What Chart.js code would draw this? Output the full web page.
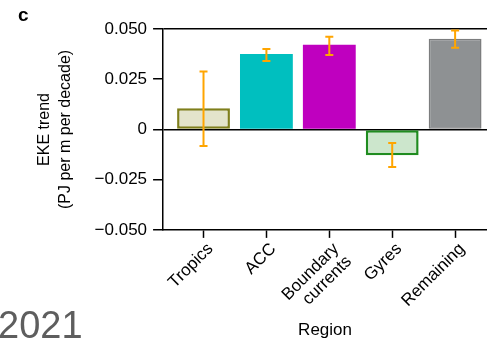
<!DOCTYPE html>
<html>
<head>
<meta charset="utf-8">
<script src="https://cdn.jsdelivr.net/npm/chart.js@4"></script>
<style>
    html, body { margin: 0; padding: 0; background: #fff; overflow: hidden; }
    #wrap { position: relative; width: 487px; height: 339px; }
    .overlay { position: absolute; font-family: 'Liberation Sans', Arial, sans-serif; line-height: 1; white-space: nowrap; }
    #panel { left: 18px; top: 5px; font-size: 19px; font-weight: bold; color: #000; }
    #year { left: -2px; top: 306px; font-size: 38px; color: #5e5e5e; }
</style>
</head>
<body>
<div id="wrap">
    <canvas id="chartEKE"></canvas>
    <div id="panel" class="overlay">c</div>
    <div id="year" class="overlay">2021</div>
</div>
<script>
// Data
const regions = ['Tropics', 'ACC', ['Boundary', 'currents'], 'Gyres', 'Remaining'];
const ekeTrend = [0.0105, 0.0376, 0.0422, -0.0129, 0.0452];
const errLow = [-0.0082, 0.0341, 0.0370, -0.0187, 0.0407];
const errHigh = [0.0288, 0.0400, 0.0462, -0.0067, 0.0492];
const yTicks = [-0.05, -0.025, 0, 0.025, 0.05];

// Warna per region
const fillColors = ['#e3e4cb', '#00bfbf', '#bf00bf', '#cce6cc', '#8e9193'];
const borderColors = ['#7f7f1c', '#00bfbf', '#bf00bf', '#1f8c1f', '#7c7d7e'];
const borderWidths = [2.5, 0, 0, 2.5, 1.5];
const errorColor = '#ffa500';

const FONT = "'Liberation Sans', Arial, sans-serif";

// Error bar digambar lewat skala chart
const errorBarPlugin = {
    id: 'errorBars',
    afterDatasetsDraw(chart) {
        const { ctx, scales: { x, y } } = chart;
        const cap = 4;
        ctx.save();
        ctx.strokeStyle = errorColor;
        ctx.lineWidth = 2;
        errLow.forEach((lo, i) => {
            const px = x.getPixelForValue(i);
            const yLo = y.getPixelForValue(lo);
            const yHi = y.getPixelForValue(errHigh[i]);
            ctx.beginPath();
            ctx.moveTo(px, yLo);
            ctx.lineTo(px, yHi);
            ctx.moveTo(px - cap, yLo);
            ctx.lineTo(px + cap, yLo);
            ctx.moveTo(px - cap, yHi);
            ctx.lineTo(px + cap, yHi);
            ctx.stroke();
        });
        ctx.restore();
    }
};

function formatTick(v) {
    if (Math.abs(v) < 1e-9) return '0';
    const s = Math.abs(v).toFixed(3);
    return v < 0 ? '\u2212' + s : s;
}

const ctx = document.getElementById('chartEKE').getContext('2d');
new Chart(ctx, {
    type: 'bar',
    data: {
        datasets: [{
            data: ekeTrend.map((v, i) => ({ x: i, y: v })),
            backgroundColor: fillColors,
            borderColor: borderColors,
            borderWidth: borderWidths,
            borderSkipped: false,
            barPercentage: 0.84,
            categoryPercentage: 1
        }]
    },
    options: {
        responsive: true,
        maintainAspectRatio: false,
        animation: false,
        layout: {
            padding: { left: 34, right: 0, top: 29, bottom: -2 }
        },
        plugins: {
            legend: { display: false },
            tooltip: { enabled: false }
        },
        scales: {
            x: {
                type: 'linear',
                min: -0.643,
                max: 4.507,
                offset: false,
                grid: {
                    offset: false,
                    drawOnChartArea: false,
                    drawTicks: true,
                    tickLength: 8,
                    tickColor: '#000',
                    tickWidth: 1.5
                },
                border: { display: true, color: '#000', width: 1.5 },
                ticks: {
                    stepSize: 1,
                    includeBounds: false,
                    autoSkip: false,
                    maxRotation: 45,
                    minRotation: 45,
                    padding: 2,
                    labelOffset: 7,
                    color: '#000',
                    font: { family: FONT, size: 17, lineHeight: 1.05 },
                    callback: (value) => regions[value]
                },
                title: {
                    display: true,
                    text: 'Region',
                    color: '#000',
                    font: { family: FONT, size: 17 },
                    padding: { top: -4, bottom: 0 }
                }
            },
            y: {
                min: -0.05,
                max: 0.05,
                afterBuildTicks: (scale) => {
                    scale.ticks = yTicks.map(v => ({ value: v }));
                },
                grid: {
                    color: (c) => {
                        const v = c.tick ? c.tick.value : null;
                        return (v !== null && (Math.abs(v) < 1e-9 || Math.abs(v - 0.05) < 1e-9)) ? '#000' : 'rgba(0,0,0,0)';
                    },
                    lineWidth: 1.5,
                    drawTicks: true,
                    tickLength: 10,
                    tickColor: '#000',
                    tickWidth: 1.5
                },
                border: { display: true, color: '#000', width: 1.5 },
                ticks: {
                    padding: 6,
                    color: '#000',
                    font: { family: FONT, size: 17 },
                    callback: (value) => formatTick(value)
                },
                title: {
                    display: true,
                    text: ['EKE trend', '(PJ per m per decade)'],
                    color: '#000',
                    font: { family: FONT, size: 16, lineHeight: 1.3 },
                    padding: { top: 0, bottom: 13 }
                }
            }
        }
    },
    plugins: [errorBarPlugin]
});
</script>
</body>
</html>
